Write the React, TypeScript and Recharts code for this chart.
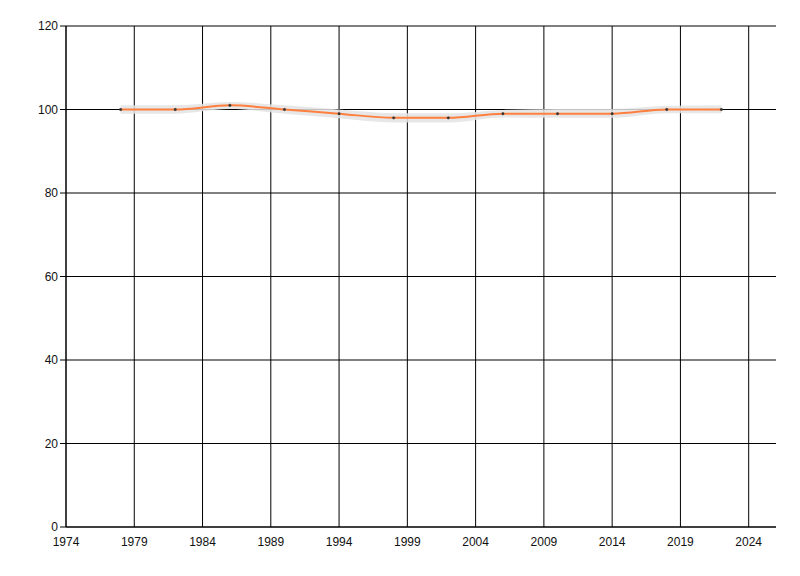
import React from 'react';
import { ComposedChart, Line, Area, XAxis, YAxis, CartesianGrid } from 'recharts';

const years = [1978, 1982, 1986, 1990, 1994, 1998, 2002, 2006, 2010, 2014, 2018, 2022];
const values = [100, 100, 101, 100, 99, 98, 98, 99, 99, 99, 100, 100];
const lower = [99.0, 99.0, 100.1, 99.0, 97.9, 96.9, 96.9, 98.1, 98.0, 98.0, 99.1, 99.1];
const upper = [101.0, 101.0, 101.8, 101.0, 100.0, 99.1, 99.1, 99.9, 100.1, 100.1, 100.9, 101.0];

const xTicks = [1974, 1979, 1984, 1989, 1994, 1999, 2004, 2009, 2014, 2019, 2024];
const yTicks = [0, 20, 40, 60, 80, 100, 120];

const tickStyle = { fontFamily: 'Liberation Sans, Arial, sans-serif', fontSize: 12, fill: '#111' };

const App: React.FC = () => {
  const chartData = years.map((year, i) => ({
    year,
    value: values[i],
    band: [lower[i], upper[i]],
  }));

  return (
    <div style={{ position: 'absolute', left: 0, top: 0, background: '#fff' }}>
      <ComposedChart width={800} height={576} data={chartData} margin={{ top: 26, right: 24, bottom: 19, left: 6 }}>
        <CartesianGrid stroke="#000" strokeWidth={1} horizontalValues={yTicks} verticalValues={xTicks} />
        <XAxis
          dataKey="year"
          type="number"
          domain={[1974, 2026]}
          ticks={xTicks}
          tick={tickStyle}
          tickLine={false}
          axisLine={{ stroke: '#000' }}
          height={30}
          tickMargin={4}
        />
        <YAxis
          type="number"
          domain={[0, 120]}
          ticks={yTicks}
          tick={tickStyle}
          tickSize={6}
          tickLine={{ stroke: '#000' }}
          axisLine={{ stroke: '#000' }}
          width={60}
        />
        <Area
          dataKey="band"
          type="monotone"
          stroke="none"
          fill="#e3e3e3"
          fillOpacity={0.85}
          isAnimationActive={false}
        />
        <Line
          dataKey="value"
          type="monotone"
          stroke="#ff7f3f"
          strokeWidth={2}
          dot={{ r: 1.2, fill: '#333', stroke: '#333', strokeWidth: 0.5 }}
          isAnimationActive={false}
        />
      </ComposedChart>
    </div>
  );
};

export default App;
